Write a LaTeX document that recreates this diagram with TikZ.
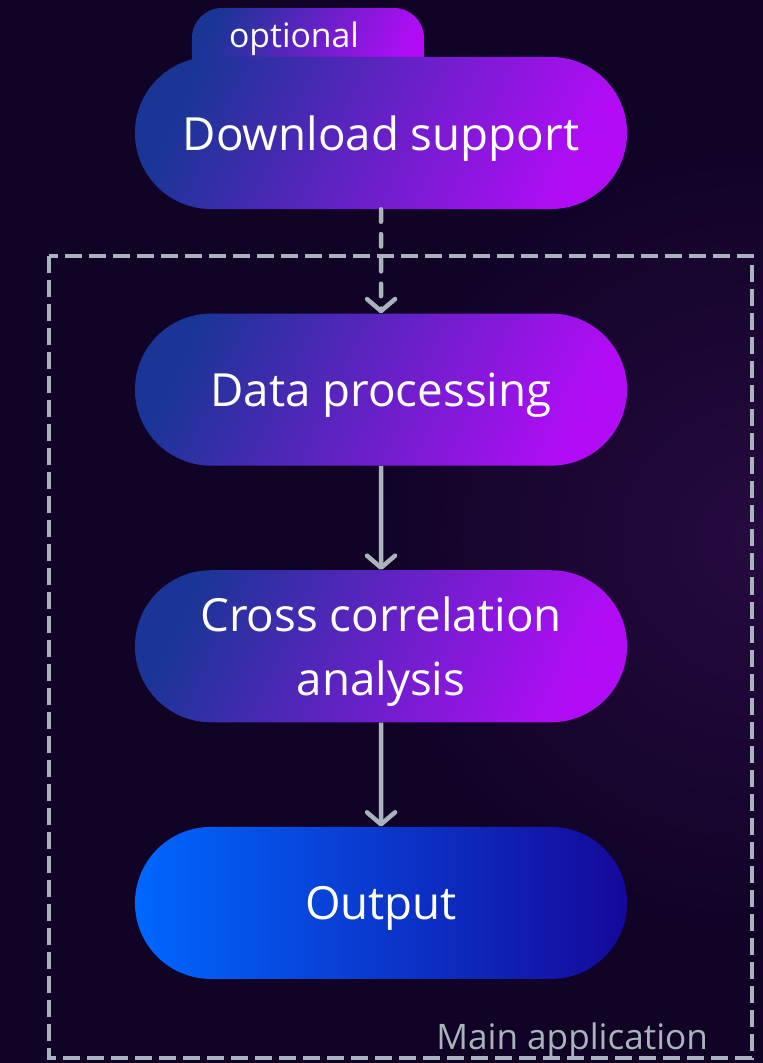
\documentclass[tikz,border=0pt]{standalone}
\usepackage{fontspec}
\setmainfont{Open Sans}
\usetikzlibrary{positioning,shapes.misc,arrows.meta}

\definecolor{bgcol}{HTML}{100326}
\definecolor{glowcol}{HTML}{260A40}
\definecolor{boxblue}{HTML}{1B3597}
\definecolor{boxpink}{HTML}{B20CF6}
\definecolor{outblue}{HTML}{0067FF}
\definecolor{outnavy}{HTML}{15089A}
\definecolor{linegrey}{HTML}{A9B3BC}

\pgfdeclareradialshading{sideglow}{\pgfpoint{0bp}{0bp}}{color(0bp)=(glowcol);
  color(10bp)=(bgcol); color(50bp)=(bgcol)}

\tikzset{
  stage/.style={rounded rectangle, minimum width=12.3cm, minimum height=3.8cm,
    inner sep=0pt, text=white, align=center, text depth=0pt,
    font=\fontsize{32.5}{45}\selectfont},
  violetfill/.style={left color=boxblue, right color=boxpink, shading angle=65},
  flow/.style={draw=linegrey, line width=3.2pt,
    -{Straight Barb[length=3mm,width=7mm,round]}},
}

\begin{document}
\begin{tikzpicture}[x=0.025cm,y=-0.025cm]
        \useasboundingbox (0,0) rectangle (762,1063);
        %% background
        \fill[bgcol] (0,0) rectangle (762,1063);
        \shade[shading=sideglow] (760,540) circle (1000);
        %% main application frame
        \draw[linegrey, line width=3.2pt, dash pattern=on 4.25mm off 1.75mm]
            (49,256) rectangle (752,1058);
        \node[anchor=base east, text=linegrey, font=\fontsize{25}{30}\selectfont]
            (mainlbl) at (713,1049) {Main application};
        %% optional tab
        \node[violetfill, rounded corners=0.75cm, minimum width=5.8cm,
            minimum height=2cm, inner sep=0pt] (tab) at (308,48) {};
        \node[anchor=base, text=white, font=\fontsize{24}{28}\selectfont]
            (opt) at (294,48) {optional};
        %% stages
        \node[stage, violetfill] (dl) at (381,133) {Download support};
        \node[stage, violetfill, below=2.6cm of dl] (dp) {Data processing};
        \node[stage, violetfill, below=2.6cm of dp] (cc) {Cross correlation\\analysis};
        \node[stage, left color=outblue, right color=outnavy, below=2.6cm of cc] (out) {Output};
        %% connectors
        \draw[flow, line cap=round, dash pattern=on 3.1mm off 3.1mm] (dl) -- (dp);
        \foreach \a/\b in {dp/cc,cc/out}
            \draw[flow] (\a) -- (\b);
\end{tikzpicture}
\end{document}
